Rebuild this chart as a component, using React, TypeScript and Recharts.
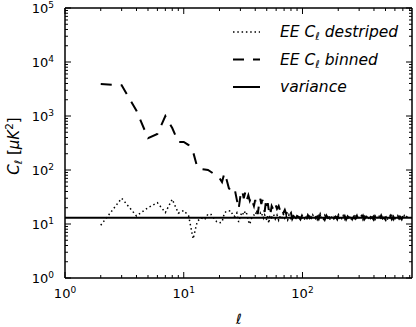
import React from 'react';
import { LineChart, Line, XAxis, YAxis, ReferenceLine } from 'recharts';

// multipole values
const ells = [
  2, 3, 4, 5, 6, 7, 8, 9, 10, 11, 12, 13, 14, 15, 16, 17, 18, 19, 20, 21,
  22, 23, 24, 25, 26, 27, 28, 29, 30, 31, 32, 33, 34, 35, 36, 37, 38, 39, 40, 41,
  42, 43, 44, 45, 46, 47, 48, 49, 50, 51, 52, 53, 54,
  55, 57, 59, 61, 63, 65, 67, 69, 71, 73, 75, 77, 80, 82, 85, 87, 90, 93, 96, 99,
  102, 105, 108, 111, 115, 118, 122, 125, 129, 133, 137, 141, 145, 150, 154, 159, 164, 169, 174, 179,
  184, 190, 196, 201, 207, 214, 220, 227, 233, 240, 248, 255, 263, 270, 278, 287, 295, 304, 313, 323,
  332, 342, 352, 363, 374, 385, 397, 408, 421, 433, 446, 460, 473, 487, 502, 517, 533, 549, 565, 582,
  590, 605, 620, 636, 652, 668, 685, 702, 719, 736, 753, 770,
];

// EE C_l destriped
const destriped = [
  9.5, 30, 14.1, 20, 24.8, 16.3, 28.7, 15.9, 17.8, 14.1, 5.3, 11.2, 13.0, 12.0, 15.3, 15.0, 12.5, 11.0, 10.5, 10.8,
  16, 17.4, 17.4, 17.6, 14.1, 13.9, 16, 10.9, 14.1, 16.6, 14.7, 17.4, 15.3, 11.4, 9.9, 12.4, 13.5, 14.7, 14.1, 17.4,
  16, 15.3, 16.2, 14.1, 15.3, 12.9, 14.7, 13.5, 11.8, 14.7, 10.3, 13.8, 14.5,
  13.2, 15.1, 12.4, 14.6, 11.7, 14.0, 12.8, 15.4, 12.2, 13.9, 11.9, 14.8, 12.6, 13.6, 15.2, 12.0, 14.2,
  12.4, 14.1, 12.9, 13.7, 11.8, 14.4, 12.5, 13.9, 12.2, 14.7,
  12.8, 13.5, 12.0, 14.2, 12.6, 13.8, 12.3, 14.5, 12.9, 13.3,
  11.9, 14.0, 12.7, 13.6, 12.4, 14.8, 12.1, 13.9, 12.6, 14.3,
  12.2, 13.7, 12.9, 14.1, 11.8, 13.8, 12.5, 14.6, 12.3, 13.5,
  12.7, 14.2, 12.0, 13.9, 12.6, 14.4, 12.2, 13.6, 12.8, 14.0,
  12.1, 13.8, 12.5, 14.5, 12.3, 13.4, 12.9, 14.1, 11.9, 13.7,
  12.6, 14.3, 12.2, 13.6, 12.7, 14.0, 12.4, 13.8, 12.1, 13.9,
  12.5, 14.2, 12.8, 13.6, 12.3,
];

// EE C_l binned
const binned = [
  3900, 3700, 1250, 390, 464, 1000, 600, 330, 330, 290, 215, 113, 104, 102, 100, 92, 84, 77, 71, 60,
  88, 65, 46, 41, 37.5, 42, 28, 19, 33, 42, 30, 39, 28, 34, 27, 31.5, 25.5, 21.5, 28, 19,
  15.3, 22.5, 30, 23.5, 28, 20.6, 16.7, 24.4, 19, 24.4, 18.2, 22.5, 16.7,
  21.5, 18.2, 23.5, 19, 21.5, 17.4, 19.9, 16, 18.2, 15.3, 17.4, 14.1, 16, 12.4, 14.7, 11.8, 14.1,
  13.5, 12.2, 14.3, 12.6, 13.9, 12.1, 14.6, 12.8, 13.4, 11.9,
  14.2, 12.7, 13.8, 12.3, 14.9, 12.5, 13.6, 12.0, 14.4, 12.9,
  13.3, 11.8, 14.1, 12.6, 13.7, 12.2, 14.5, 12.8, 13.2, 12.4,
  14.0, 12.1, 13.9, 12.7, 15.0, 12.3, 13.6, 12.5, 14.2, 12.0,
  13.8, 12.6, 14.3, 12.2, 13.5, 11.9, 14.6, 12.8, 13.4, 12.1,
  14.0, 12.5, 13.7, 12.3, 14.4, 12.6, 13.1, 11.9, 13.9, 12.4,
  14.1, 12.2, 13.6, 12.7, 14.3, 12.0, 13.8, 12.5, 13.4, 12.2,
  14.0, 12.6, 13.5, 12.3, 13.7,
];

const variance = 13.1;

const xMajorTicks = [1, 10, 100];
const xMinorTicks = [2, 3, 4, 5, 6, 7, 8, 9, 20, 30, 40, 50, 60, 70, 80, 90, 200, 300, 400, 500, 600, 700, 800];
const yMajorTicks = [1, 10, 100, 1000, 10000, 100000];
const yMinorTicks = [
  2, 3, 4, 5, 6, 7, 8, 9,
  20, 30, 40, 50, 60, 70, 80, 90,
  200, 300, 400, 500, 600, 700, 800, 900,
  2000, 3000, 4000, 5000, 6000, 7000, 8000, 9000,
  20000, 30000, 40000, 50000, 60000, 70000, 80000, 90000,
];
const legendNames = ['destriped', 'binned', 'variance'];

const data = ells.map((l, i) => ({ l, d: destriped[i], b: binned[i] }));
const xTicks = [...xMajorTicks, ...xMinorTicks].sort((a, b) => a - b);
const yTicks = [...yMajorTicks, ...yMinorTicks].sort((a, b) => a - b);

const FONT = '"DejaVu Sans", sans-serif';
const TICK_FS = 13;
const SUP_FS = 9;
const MAJ = 6;
const MIN = 3;

const isMajor = (v: number) => {
  const e = Math.log10(v);
  return Math.abs(e - Math.round(e)) < 1e-6;
};
const expOf = (v: number) => Math.round(Math.log10(v));

const BottomTick = (p: any) => {
  const { x, y, payload } = p;
  const v = payload.value;
  const m = isMajor(v);
  return (
    <g>
      <line x1={x} x2={x} y1={y} y2={y - (m ? MAJ : MIN)} stroke="#000" strokeWidth={1} />
      {m && (
        <text x={x} y={y + 20} textAnchor="middle" fontFamily={FONT} fontSize={TICK_FS} fill="#000">
          10<tspan dy={-5} fontSize={SUP_FS}>{expOf(v)}</tspan>
        </text>
      )}
    </g>
  );
};

const TopTick = (p: any) => {
  const { x, y, payload } = p;
  const m = isMajor(payload.value);
  return <line x1={x} x2={x} y1={y} y2={y + (m ? MAJ : MIN)} stroke="#000" strokeWidth={1} />;
};

const LeftTick = (p: any) => {
  const { x, y, payload } = p;
  const v = payload.value;
  const m = isMajor(v);
  return (
    <g>
      <line x1={x} x2={x + (m ? MAJ : MIN)} y1={y} y2={y} stroke="#000" strokeWidth={1} />
      {m && (
        <text x={x - 11} y={y + 5} textAnchor="end" fontFamily={FONT} fontSize={TICK_FS} fill="#000">
          10<tspan dy={-5.5} fontSize={SUP_FS}>{expOf(v)}</tspan>
        </text>
      )}
    </g>
  );
};

const RightTick = (p: any) => {
  const { x, y, payload } = p;
  const m = isMajor(payload.value);
  return <line x1={x} x2={x - (m ? MAJ : MIN)} y1={y} y2={y} stroke="#000" strokeWidth={1} />;
};

const axisLine = { stroke: '#000', strokeWidth: 1.5 };
const LEG_FS = 15.5;

export default function App() {
  return (
    <div style={{ position: 'absolute', left: 0, top: 0, width: 416, height: 327, background: '#fff' }}>
      <LineChart width={416} height={327} data={data} margin={{ top: 7, right: 3, bottom: 0, left: 0 }}>
        <XAxis
          xAxisId="b" dataKey="l" type="number" scale="log" domain={[1, 836]} allowDataOverflow
          ticks={xTicks} interval={0} tick={(p: any) => <BottomTick {...p} />} tickLine={false}
          tickSize={0} tickMargin={0} height={49} axisLine={axisLine} orientation="bottom"
        />
        <XAxis
          xAxisId="t" dataKey="l" type="number" scale="log" domain={[1, 836]} allowDataOverflow
          ticks={xTicks} interval={0} tick={(p: any) => <TopTick {...p} />} tickLine={false}
          tickSize={0} tickMargin={0} height={1} axisLine={axisLine} orientation="top"
        />
        <YAxis
          yAxisId="l" type="number" scale="log" domain={[1, 100000]} allowDataOverflow
          ticks={yTicks} interval={0} tick={(p: any) => <LeftTick {...p} />} tickLine={false}
          tickSize={0} tickMargin={0} width={65} axisLine={axisLine} orientation="left"
        />
        <YAxis
          yAxisId="r" type="number" scale="log" domain={[1, 100000]} allowDataOverflow
          ticks={yTicks} interval={0} tick={(p: any) => <RightTick {...p} />} tickLine={false}
          tickSize={0} tickMargin={0} width={1} axisLine={axisLine} orientation="right"
        />
        <ReferenceLine xAxisId="t" yAxisId="r" y={variance} stroke="#000" strokeWidth={2} />
        <Line
          xAxisId="b" yAxisId="l" type="linear" dataKey="d" stroke="#000" strokeWidth={1.5}
          strokeDasharray="1.5 2.8" dot={false} isAnimationActive={false}
        />
        <Line
          xAxisId="b" yAxisId="l" type="linear" dataKey="b" stroke="#000" strokeWidth={2}
          strokeDasharray="11 9" dot={false} isAnimationActive={false}
        />
      </LineChart>
      <svg width={416} height={327} style={{ position: 'absolute', left: 0, top: 0, pointerEvents: 'none' }}>
        {/* legend */}
        <line x1={233} x2={260} y1={32} y2={32} stroke="#000" strokeWidth={1.5} strokeDasharray="1.5 2.8" />
        <line x1={233} x2={260} y1={59.5} y2={59.5} stroke="#000" strokeWidth={2} strokeDasharray="11 9" />
        <line x1={233} x2={260} y1={87} y2={87} stroke="#000" strokeWidth={2} />
        <text x={280} y={37} fontFamily={FONT} fontSize={LEG_FS} fontStyle="italic" fill="#000">
          EE C<tspan fontSize={LEG_FS * 0.7} dy={3}>ℓ</tspan><tspan dy={-3}> {legendNames[0]}</tspan>
        </text>
        <text x={280} y={64.5} fontFamily={FONT} fontSize={LEG_FS} fontStyle="italic" fill="#000">
          EE C<tspan fontSize={LEG_FS * 0.7} dy={3}>ℓ</tspan><tspan dy={-3}> {legendNames[1]}</tspan>
        </text>
        <text x={280} y={92} fontFamily={FONT} fontSize={LEG_FS} fontStyle="italic" fill="#000">
          {legendNames[2]}
        </text>
        {/* axis titles */}
        <text transform="translate(19,146) rotate(-90)" textAnchor="middle" fontFamily={FONT} fontSize={15} fill="#000">
          <tspan fontStyle="italic">C</tspan>
          <tspan fontSize={10.5} dy={3} fontStyle="italic">ℓ</tspan>
          <tspan dy={-3}> [</tspan>
          <tspan fontStyle="italic">μK</tspan>
          <tspan fontSize={10.5} dy={-6}>2</tspan>
          <tspan dy={6}>]</tspan>
        </text>
        <text x={239} y={324} textAnchor="middle" fontFamily={FONT} fontSize={14} fontStyle="italic" fill="#000">
          ℓ
        </text>
      </svg>
    </div>
  );
}
